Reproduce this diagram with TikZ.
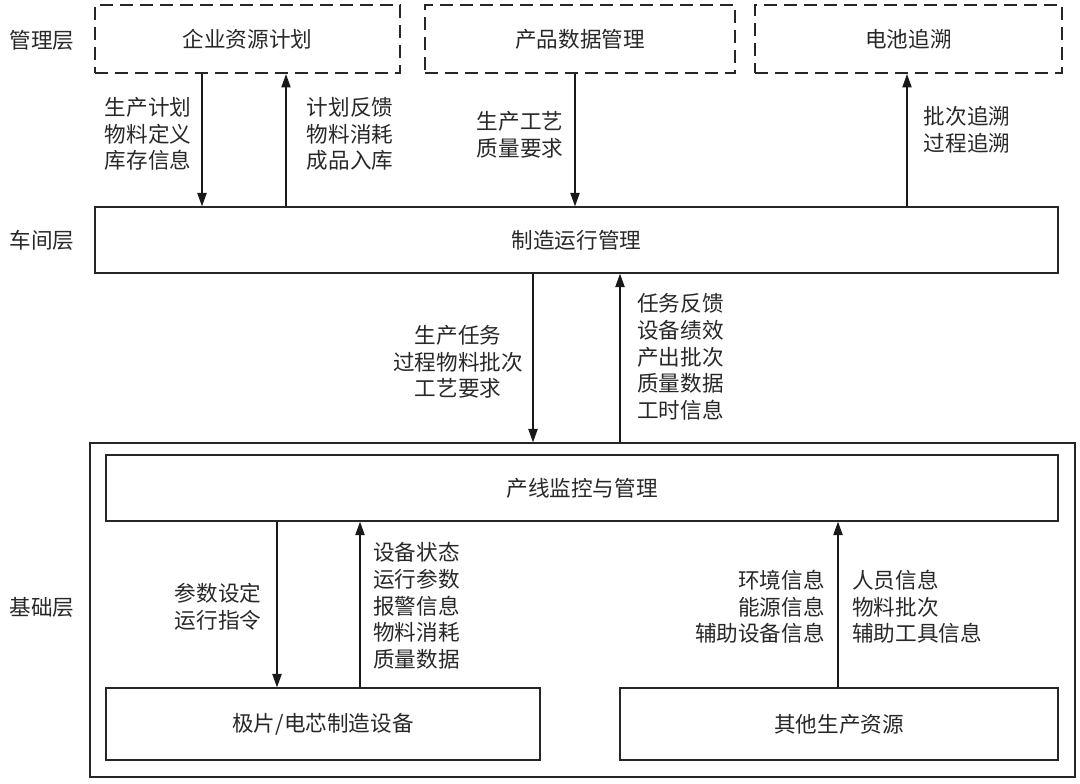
\documentclass[tikz,border=0pt]{standalone}
\usepackage{fontspec}
\newfontfamily\cjk{Noto Sans CJK SC}
\usetikzlibrary{arrows.meta}
\definecolor{txtgray}{RGB}{40,40,40}

\tikzset{
  box/.style 2 args={draw=black!85, line width=1.1pt, inner sep=0pt,
    minimum width=#1*0.75pt, minimum height=#2*0.75pt, font=\cjk\fontsize{16.2}{19}\selectfont, text=txtgray},
  dbox/.style 2 args={box={#1}{#2}, dash pattern=on 10pt off 5pt, line width=1.7pt},
  lbl/.style={font=\cjk\fontsize{16.2}{20}\selectfont, text=txtgray, inner sep=0pt},
  arr/.style={-{Triangle[length=10pt,width=7pt]}, line width=0.8pt, black!90}
}

\begin{document}
\begin{tikzpicture}[x=0.75pt,y=-0.75pt]
\useasboundingbox (0,0) rectangle (1080,783);

% Layer names
\node[lbl] (lmgmt) at (42,40) {管理层};
\node[lbl] (lshop) at (42,240) {车间层};
\node[lbl] (lbase) at (42,607) {基础层};

% Management layer
\node[dbox={305}{68}] (erp) at (247.5,39) {企业资源计划};
\node[dbox={310}{68}] (pdm) at (580,39) {产品数据管理};
\node[dbox={307}{68}] (trace) at (908.5,39) {电池追溯};

% Shop layer
\node[box={963}{66}] (mes) at (576.5,240) {制造运行管理};

% Base layer
\node[box={985}{334}] (base) at (582.5,610) {};
\node[box={952}{66}] (plc) at (582,488) {产线监控与管理};
\node[box={434}{72}] (equip) at (323,724) {极片/电芯制造设备};
\node[box={438}{72}] (other) at (839,724) {其他生产资源};

% Management <-> shop
\draw[arr] (erp.south -| 202,0) -- (mes.north -| 202,0);
\draw[arr] (mes.north -| 286,0) -- (erp.south -| 286,0);
\draw[arr] (pdm.south -| 575,0) -- (mes.north -| 575,0);
\draw[arr] (mes.north -| 907,0) -- (trace.south -| 907,0);
\node[lbl, align=left] (t1) at (148,134) {生产计划\\物料定义\\库存信息};
\node[lbl, align=left] (t2) at (350,134) {计划反馈\\物料消耗\\成品入库};
\node[lbl, align=left] (t3) at (520,135) {生产工艺\\质量要求};
\node[lbl, align=left] (t4) at (967,130) {批次追溯\\过程追溯};

% Shop <-> base
\draw[arr] (mes.south -| 533,0) -- (base.north -| 533,0);
\draw[arr] (base.north -| 620,0) -- (mes.south -| 620,0);
\node[lbl, align=center] (t5) at (458,362) {生产任务\\过程物料批次\\工艺要求};
\node[lbl, align=left, anchor=west] (t6) at (637,357) {任务反馈\\设备绩效\\产出批次\\质量数据\\工时信息};

% Inside base layer
\draw[arr] (plc.south -| 277,0) -- (equip.north -| 277,0);
\draw[arr] (equip.north -| 360,0) -- (plc.south -| 360,0);
\draw[arr] (other.north -| 838,0) -- (plc.south -| 838,0);
\node[lbl, align=left] (t7) at (218,607) {参数设定\\运行指令};
\node[lbl, align=left, anchor=west] (t8) at (373,606) {设备状态\\运行参数\\报警信息\\物料消耗\\质量数据};
\node[lbl, align=right, anchor=east] (t9) at (825,607) {环境信息\\能源信息\\辅助设备信息};
\node[lbl, align=left, anchor=west] (t10) at (852,607) {人员信息\\物料批次\\辅助工具信息};
\end{tikzpicture}
\end{document}
